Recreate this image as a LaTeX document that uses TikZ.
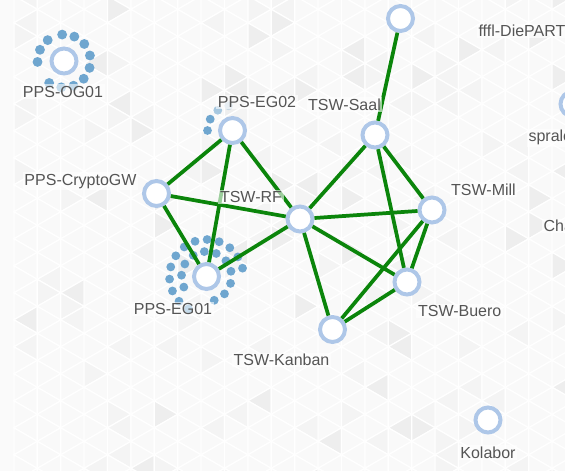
\documentclass[tikz,border=0pt]{standalone}
\usepackage{fontspec}
\setmainfont{Liberation Sans}
\usepackage{xcolor}
\usepackage{tikz}
\definecolor{knotring}{HTML}{AEC7E8}
\definecolor{lnkgreen}{HTML}{0B850B}
\definecolor{clientblue}{HTML}{6FA6CF}
\definecolor{lbltext}{HTML}{555555}
\tikzset{
  knot/.style={circle, draw=knotring, line width=3pt, fill=white, minimum size=18.75pt, inner sep=0pt},
  lnk/.style={draw=lnkgreen, line width=2.8pt},
  lbl/.style={font=\fontsize{12}{14}\selectfont, text=lbltext, fill=white, fill opacity=0.6, text opacity=1, inner sep=1.2pt, anchor=base},
  client/.style={fill=clientblue}
}
\begin{document}
\begin{tikzpicture}[x=0.75pt,y=-0.75pt]
        \useasboundingbox (0,0) rectangle (565,471);
        \clip (0,0) rectangle (565,471);
        \fill[black!2] (0,0) rectangle (565,471);
        \pgfmathsetseed{5}
        \foreach \i in {0,...,24}{
          \foreach \j in {-1,...,18}{
            \pgfmathsetmacro{\xa}{13.9+\i*23.4}
            \pgfmathsetmacro{\xb}{\xa+23.4}
            \pgfmathsetmacro{\ya}{-4.2+mod(\i,2)*13.5+\j*27}
            \pgfmathrandominteger{\ra}{0}{99}
            \pgfmathrandominteger{\rb}{0}{99}
            \pgfmathsetmacro{\ga}{\ra<84 ? 2.5 : (\ra<95 ? 4.5 : 6.5)}
            \pgfmathsetmacro{\gb}{\rb<84 ? 2.5 : (\rb<95 ? 4.5 : 6.5)}
            \draw[white, line width=0.9pt, fill=black!\ga] (\xa,\ya) -- (\xa,\ya+27) -- (\xb,\ya+13.5) -- cycle;
            \draw[white, line width=0.9pt, fill=black!\gb] (\xb,\ya+13.5) -- (\xb,\ya+40.5) -- (\xa,\ya+27) -- cycle;
          }
        }
        \node[knot] (og01) at (64,61) {};
        \node[knot] (eg02) at (232.5,130.5) {};
        \node[knot] (saal) at (375,135) {};
        \node[knot] (top) at (400.5,18.5) {};
        \node[knot] (crypto) at (156.5,193.5) {};
        \node[knot] (rf) at (300,219) {};
        \node[knot] (mill) at (432,210) {};
        \node[knot] (eg01) at (206.5,276.5) {};
        \node[knot] (buero) at (407,282) {};
        \node[knot] (kanban) at (332.5,329.5) {};
        \node[knot] (kolabor) at (488,420) {};
        \node[knot] (spr) at (573,104) {};
        \foreach \a in {-94,-67,-40,-12,15,42,69,96,124,178,205,232}
          \fill[client] (og01) ++(\a:26.5) circle (3.7pt);
        \foreach \a in {-150,-122,-95,-67,-39,-12,16,44,72,155,183}
          \fill[client] (eg01) ++(\a:25) circle (3.3pt);
        \foreach \a in {119,138,157,176,195,214,233,252,271,290,309,328,347}
          \fill[client] (eg01) ++(\a:37) circle (3.3pt);
        \fill[client] (eg02) ++(180:25) circle (3.3pt);
        \fill[client] (eg02) ++(-153:25) circle (3.3pt);
        \fill[client, fill opacity=0.6] (eg02) ++(-126:25) circle (3.3pt);
        \fill[client, fill opacity=0.3] (eg02) ++(-99:25) circle (3.3pt);
        \draw[lnk] (top) -- (saal);
        \draw[lnk] (eg02) -- (crypto);
        \draw[lnk] (eg02) -- (rf);
        \draw[lnk] (eg02) -- (eg01);
        \draw[lnk] (crypto) -- (rf);
        \draw[lnk] (crypto) -- (eg01);
        \draw[lnk] (eg01) -- (rf);
        \draw[lnk] (rf) -- (saal);
        \draw[lnk] (rf) -- (mill);
        \draw[lnk] (rf) -- (buero);
        \draw[lnk] (rf) -- (kanban);
        \draw[lnk] (saal) -- (mill);
        \draw[lnk] (saal) -- (buero);
        \draw[lnk] (mill) -- (buero);
        \draw[lnk] (mill) -- (kanban);
        \draw[lnk] (buero) -- (kanban);
        \node[lbl] (l-og01) at (63,97) {PPS-OG01};
        \node[lbl] (l-eg02) at (257,107.5) {PPS-EG02};
        \node[lbl] (l-saal) at (344.5,110.5) {TSW-Saal};
        \node[lbl] (l-crypto) at (80.5,185) {PPS-CryptoGW};
        \node[lbl] (l-rf) at (251,202.7) {TSW-RF};
        \node[lbl] (l-mill) at (483.5,195) {TSW-Mill};
        \node[lbl] (l-eg01) at (173,314.3) {PPS-EG01};
        \node[lbl] (l-buero) at (459.7,316.7) {TSW-Buero};
        \node[lbl] (l-kanban) at (281.5,365.7) {TSW-Kanban};
        \node[lbl] (l-kolabor) at (488,458.3) {Kolabor};
        \node[lbl, anchor=base west] (l-fffl) at (476.7,36.7) {fffl-DiePART};
        \node[lbl, anchor=base west] (l-spr) at (526.7,141.7) {sprale};
        \node[lbl, anchor=base west] (l-cha) at (541.7,231.7) {Cha};
\end{tikzpicture}
\end{document}
